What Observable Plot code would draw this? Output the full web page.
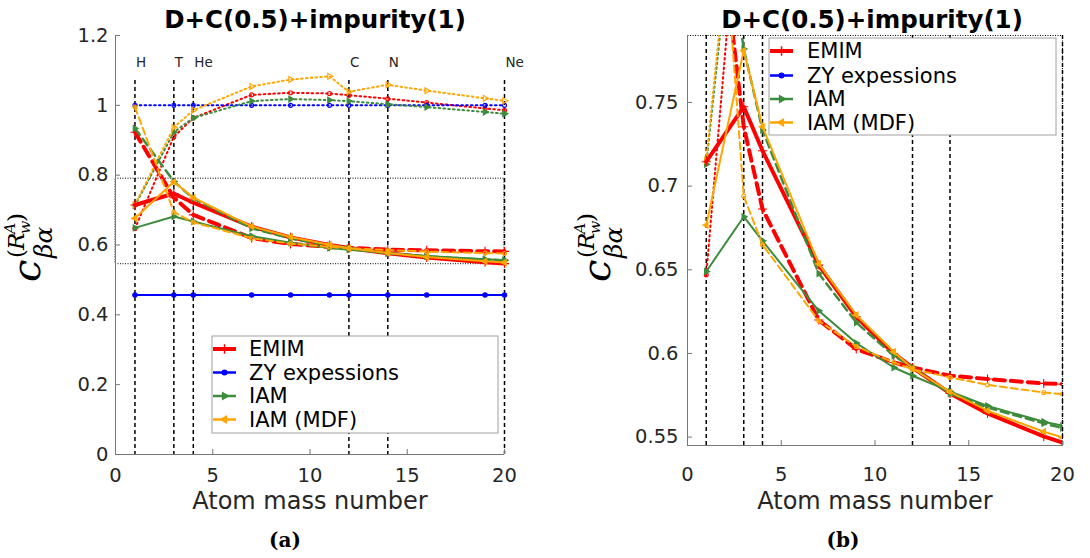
<!DOCTYPE html>
<html><head><meta charset="utf-8">
<script src="https://cdn.jsdelivr.net/npm/d3@7"></script>
<script src="https://cdn.jsdelivr.net/npm/@observablehq/plot@0.6"></script>
<style>
html,body{margin:0;padding:0;background:#fff;}
#chart{position:relative;width:1090px;height:558px;overflow:hidden;background:#fff;}
#chart svg{position:absolute;top:0;}
</style></head><body><div id="chart"></div>
<script>
// ---------- data ----------
const massNumbers = [1, 3, 4, 7, 9, 11, 12, 14, 16, 19, 20];
const emimSolid  = [0.7146, 0.7474, 0.7211, 0.6528, 0.6219, 0.6000, 0.5916, 0.5761, 0.5642, 0.5504, 0.5468];
const emimDashed = [0.923, 0.7355, 0.6863, 0.6200, 0.6026, 0.5946, 0.5916, 0.5867, 0.5847, 0.5821, 0.5817];
const emimDotted = [0.647, 0.910, 0.964, 1.030, 1.036, 1.034, 1.029, 1.019, 1.008, 0.991, 0.986];
const zySolid    = [0.457, 0.457, 0.457, 0.457, 0.457, 0.457, 0.457, 0.457, 0.457, 0.457, 0.457];
const zyDotted   = [1.0, 1.0, 1.0, 1.0, 1.0, 1.0, 1.0, 1.0, 1.0, 1.0, 1.0];
const iamSolid   = [0.649, 0.6817, 0.6673, 0.6255, 0.6062, 0.5916, 0.5867, 0.5773, 0.5687, 0.5592, 0.5568];
const iamDashed  = [0.934, 0.782, 0.7335, 0.6478, 0.6185, 0.5986, 0.5916, 0.5760, 0.5677, 0.5582, 0.5554];
const iamDotted  = [0.713, 0.923, 0.964, 1.012, 1.018, 1.015, 1.012, 1.003, 0.995, 0.981, 0.976];
const mdfSolid   = [0.6767, 0.781, 0.7355, 0.6535, 0.6230, 0.6010, 0.5910, 0.5770, 0.5658, 0.5532, 0.5498];
const mdfDashed  = [0.995, 0.694, 0.665, 0.6195, 0.6042, 0.5946, 0.5906, 0.5857, 0.5813, 0.5767, 0.5757];
const mdfDotted  = [0.7155, 0.937, 0.986, 1.054, 1.074, 1.083, 1.039, 1.059, 1.042, 1.020, 1.013];

const elementX = [1, 3, 4, 12, 14, 20];
const elementLabels = ["H", "T", "He", "C", "N", "Ne"];
const legendNames = ["EMIM", "ZY expessions", "IAM", "IAM (MDF)"];
const xTicks = [0, 5, 10, 15, 20];
const yTicksA = [0, 0.2, 0.4, 0.6, 0.8, 1, 1.2];
const yTicksB = [0.55, 0.6, 0.65, 0.7, 0.75];
const domainA = [0, 1.2];
const zoomX = [0, 20];
const zoomY = [0.545, 0.79];
const titleText = "D+C(0.5)+impurity(1)";
const xLabelText = "Atom mass number";
const captions = ["(a)", "(b)"];

// ---------- styles ----------
const red = "#ff0000", blue = "#0000ff", green = "#3d8b3d", orange = "#ffa500";
const legendColors = [red, blue, green, orange];
const DOT = "1.6,3.2";
const table = v => massNumbers.map((x, i) => ({x, y: v[i]}));
const seriesDefs = [
  {v: emimDotted, c: red, w: 2, d: DOT, sym: "circle", fill: false, r: 2},
  {v: zyDotted, c: blue, w: 2, d: DOT, sym: "circle", fill: false, r: 2},
  {v: iamDotted, c: green, w: 2, d: DOT, sym: "triangle", rot: 90, fill: true, r: 2.2},
  {v: mdfDotted, c: orange, w: 2, d: DOT, sym: "triangle", rot: 90, fill: false, r: 2.2},
  {v: zySolid, c: blue, w: 2, sym: "circle", fill: true, r: 2.2},
  {v: emimSolid, c: red, w: 4, sym: "plus", fill: false, r: 3},
  {v: emimDashed, c: red, w: 4, d: "11,6", sym: "plus", fill: false, r: 3},
  {v: iamSolid, c: green, w: 2, sym: "triangle", rot: 90, fill: true, r: 2.2},
  {v: iamDashed, c: green, w: 2.5, d: "8,5", sym: "triangle", rot: 90, fill: true, r: 2.2},
  {v: mdfSolid, c: orange, w: 2, sym: "triangle", rot: -90, fill: true, r: 2.2},
  {v: mdfDashed, c: orange, w: 2, d: "7,4", sym: "circle", fill: false, r: 2}
];

function seriesMarks(clip) {
  const marks = [];
  for (const s of seriesDefs) {
    const data = table(s.v);
    const lo = {x: "x", y: "y", stroke: s.c, strokeWidth: s.w, clip};
    if (s.d) lo.strokeDasharray = s.d;
    marks.push(Plot.line(data, lo));
    const dotOpts = {x: "x", y: "y", symbol: s.sym, r: s.r, stroke: s.c, strokeWidth: 1.1,
      fill: s.fill ? s.c : "none", clip};
    if (s.rot) dotOpts.rotate = s.rot;
    marks.push(Plot.dot(data, dotOpts));
  }
  return marks;
}

const axisColor = "#777";
const textColor = "#262626";
const W = 545, H = 558;
const fmt = d => String(d);
const tickFont = 19.5;

// ---------- panel (a) ----------
const plotA = Plot.plot({
  width: W, height: H,
  marginLeft: 115, marginRight: 41, marginTop: 35, marginBottom: 104,
  style: {fontFamily: "DejaVu Sans", color: textColor, background: "white"},
  x: {domain: [0, 20]},
  y: {domain: domainA},
  marks: [
    Plot.rect([{x1: zoomX[0], x2: zoomX[1], y1: zoomY[0], y2: zoomY[1]}],
      {x1: "x1", x2: "x2", y1: "y1", y2: "y2", fill: "none", stroke: "black", strokeWidth: 1, strokeDasharray: "1,1.5"}),
    Plot.ruleX(elementX, {x: d => d, insetTop: 45, stroke: "black", strokeWidth: 1.5, strokeDasharray: "4,3"}),
    Plot.text(elementX, {x: d => d, text: (d, i) => elementLabels[i], frameAnchor: "top", dy: 22, dx: 1,
      textAnchor: "start", fontSize: 13.5, fill: textColor}),
    ...seriesMarks(false),
    Plot.ruleX([0], {stroke: axisColor}),
    Plot.ruleY([domainA[0]], {stroke: axisColor}),
    Plot.axisX({ticks: xTicks, tickFormat: fmt, tickSize: -5, tickPadding: 19, fontSize: tickFont, label: null, stroke: axisColor, fill: textColor}),
    Plot.axisY({ticks: yTicksA, tickFormat: fmt, tickSize: -5, tickPadding: 12, fontSize: tickFont, label: null, stroke: axisColor, fill: textColor})
  ]
});

// ---------- panel (b) ----------
const plotB = Plot.plot({
  width: W, height: H,
  marginLeft: 142, marginRight: 28, marginTop: 35, marginBottom: 113,
  style: {fontFamily: "DejaVu Sans", color: textColor, background: "white"},
  x: {domain: zoomX},
  y: {domain: zoomY},
  marks: [
    Plot.frame({stroke: "black", strokeWidth: 1, strokeDasharray: "1,1.5"}),
    Plot.ruleX(elementX, {x: d => d, stroke: "black", strokeWidth: 1.5, strokeDasharray: "4,3"}),
    ...seriesMarks(true),
    Plot.ruleX([zoomX[0]], {stroke: axisColor}),
    Plot.ruleY([zoomY[0]], {stroke: axisColor}),
    Plot.axisX({ticks: xTicks, tickFormat: fmt, tickSize: -5, tickPadding: 27, fontSize: tickFont, label: null, stroke: axisColor, fill: textColor}),
    Plot.axisY({ticks: yTicksB, tickFormat: fmt, tickSize: -5, tickPadding: 14, fontSize: tickFont, label: null, stroke: axisColor, fill: textColor})
  ]
});

const chart = document.getElementById("chart");
plotA.style.left = "0px";
plotB.style.left = W + "px";
chart.appendChild(plotA);
chart.appendChild(plotB);

// ---------- annotations ----------
function decorate(svgEl, cfg, caption) {
  const svg = d3.select(svgEl);
  svg.append("text").text(titleText).attr("x", cfg.titleX).attr("y", 28)
    .attr("text-anchor", "middle").attr("font-family", "DejaVu Sans").attr("font-weight", "bold")
    .attr("font-size", 24.5).attr("fill", "black");
  svg.append("text").text(xLabelText).attr("x", cfg.xlabX).attr("y", 509)
    .attr("text-anchor", "middle").attr("font-family", "DejaVu Sans")
    .attr("font-size", 24).attr("fill", textColor);
  svg.append("text").text(caption).attr("x", cfg.capX).attr("y", 547)
    .attr("text-anchor", "middle").attr("font-family", "DejaVu Serif").attr("font-weight", "bold")
    .attr("font-size", 20).attr("fill", "black");
  // y label: c_{βα}^{(R_w^A)}
  const g = svg.append("g").attr("transform", `translate(${cfg.ylabX},${cfg.ylabY}) rotate(-90)`)
    .attr("font-family", "DejaVu Serif").attr("fill", "black").attr("text-anchor", "start");
  g.append("text").text("c").attr("x", 0).attr("y", 0).attr("font-size", 40).attr("font-style", "italic");
  g.append("text").text("βα").attr("x", 24).attr("y", 12).attr("font-size", 25).attr("font-style", "italic");
  g.append("text").text("(").attr("x", 24).attr("y", -16).attr("font-size", 23);
  g.append("text").text("R").attr("x", 32).attr("y", -16).attr("font-size", 23).attr("font-style", "italic");
  g.append("text").text("A").attr("x", 48).attr("y", -25).attr("font-size", 15.5).attr("font-style", "italic");
  g.append("text").text("w").attr("x", 48).attr("y", -10).attr("font-size", 15.5).attr("font-style", "italic");
  g.append("text").text(")").attr("x", 60).attr("y", -16).attr("font-size", 23);
  // legend
  const lg = svg.append("g").attr("text-anchor", "start");
  lg.append("rect").attr("x", cfg.box[0]).attr("y", cfg.box[1]).attr("width", cfg.box[2]).attr("height", cfg.box[3])
    .attr("fill", "white").attr("stroke", "#a0a0a0").attr("stroke-width", 1);
  const symbols = [d3.symbolPlus, d3.symbolCircle, d3.symbolTriangle, d3.symbolTriangle];
  const rots = [0, 0, 90, -90];
  const sizes = [30, 16, 18, 18];
  legendNames.forEach((name, i) => {
    const y = cfg.rows[i];
    const x0 = cfg.sample[0], x1 = cfg.sample[1], xm = (x0 + x1) / 2;
    lg.append("line").attr("x1", x0).attr("x2", x1).attr("y1", y).attr("y2", y)
      .attr("stroke", legendColors[i]).attr("stroke-width", i === 0 ? 4 : 2.5);
    lg.append("path").attr("d", d3.symbol(symbols[i], sizes[i])())
      .attr("transform", `translate(${xm},${y}) rotate(${rots[i]})`)
      .attr("fill", i === 0 ? "none" : legendColors[i]).attr("stroke", legendColors[i]).attr("stroke-width", 1.5);
    lg.append("text").text(name).attr("x", cfg.textX).attr("y", y).attr("dy", "0.35em")
      .attr("text-anchor", "start")
      .attr("font-family", "DejaVu Sans").attr("font-size", 21).attr("fill", "black");
  });
}

decorate(plotA, {titleX: 315, xlabX: 310, capX: 285, ylabX: 40, ylabY: 282,
  box: [212, 336, 286, 97], rows: [349, 372.5, 396, 419.5], sample: [213, 236], textX: 249}, captions[0]);
decorate(plotB, {titleX: 327, xlabX: 330, capX: 298, ylabX: 610 - W, ylabY: 282,
  box: [224, 38, 287, 97], rows: [51, 75.5, 99, 122.5], sample: [225, 248], textX: 262}, captions[1]);
</script></body></html>
